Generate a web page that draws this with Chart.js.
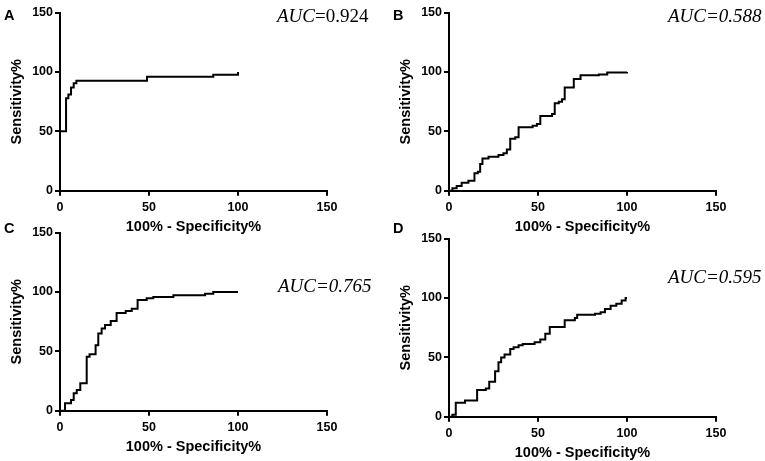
<!DOCTYPE html>
<html>
<head>
<meta charset="utf-8">
<script src="https://cdn.jsdelivr.net/npm/chart.js@4.4.1/dist/chart.umd.min.js"></script>
<style>
  html, body { margin: 0; padding: 0; background: #fff; overflow: hidden; }
  body { width: 765px; height: 461px; position: relative; }
  .panel { position: absolute; width: 376px; height: 235px; }
  .letter { position: absolute; font: bold 14.5px "Liberation Sans", Arial, sans-serif; line-height: 14px; color: #000; }
  .auc { position: absolute; font: 19px "Liberation Serif", "Times New Roman", serif; line-height: 19px; color: #000; white-space: nowrap; }
  .auc i { font-style: italic; }
</style>
</head>
<body>
<div class="panel" style="left:0px;top:0px"><canvas id="chartA"></canvas></div>
<div class="panel" style="left:389px;top:0px"><canvas id="chartB"></canvas></div>
<div class="panel" style="left:0px;top:220px"><canvas id="chartC"></canvas></div>
<div class="panel" style="left:389px;top:226px"><canvas id="chartD"></canvas></div>

<div class="letter" style="left:4px;top:8px">A</div>
<div class="letter" style="left:393px;top:8px">B</div>
<div class="letter" style="left:4px;top:221px">C</div>
<div class="letter" style="left:393px;top:221px">D</div>

<div class="auc" style="left:277px;top:6px"><i>AUC</i>=0.924</div>
<div class="auc" style="left:668px;top:6px"><i>AUC=0.588</i></div>
<div class="auc" style="left:278px;top:276px"><i>AUC=0.765</i></div>
<div class="auc" style="left:668px;top:267px"><i>AUC=0.595</i></div>

<script>
// axis ticks shared by all four panels
const axisTicks = [0, 50, 100, 150];
const xTitle = "100% - Specificity%";
const yTitle = "Sensitivity%";

// ROC curves: x = 100% - specificity, y = sensitivity (points where the curve steps up)
const aX = [0, 0, 3.4, 4.7, 6.2, 7.7, 9.2, 48.9, 86.1, 100];
const aY = [0, 50, 78, 81, 87, 90.5, 92.7, 96, 97.8, 100];

const bX = [0, 1.9, 4.3, 7.1, 10.9, 14.3, 16.2, 17.5, 18.8, 22.2, 27.8, 30.6, 32.5, 34.4, 37.2, 39.1, 47, 49.4, 51.3, 57.9, 59.4, 61.7, 63.5, 65, 70.1, 73.9, 84.2, 88.9, 100];
const bY = [0, 2, 3.9, 6.7, 8.4, 14.6, 16, 22.5, 27.2, 28.7, 30, 31.5, 34.8, 43.8, 45, 53.4, 54.8, 56.2, 62.9, 64.6, 73.6, 75, 77, 87, 94.1, 97.2, 98, 99.7, 100];

const cX = [0, 2.8, 6.2, 7.7, 9.4, 11.4, 15, 16.6, 20, 21.5, 23.4, 25.3, 28.5, 31.8, 36.9, 40.3, 43.6, 48.7, 52.4, 63.7, 81.5, 86.1, 100];
const cY = [0, 6.2, 9, 14.6, 17.4, 23.2, 45.4, 47.6, 55.2, 65, 69.2, 72.3, 75.6, 82.4, 84, 86, 93.3, 94.7, 95.8, 97.2, 98.6, 100, 100];

const dX = [0, 1.9, 3.8, 9, 15.8, 20.7, 22.6, 25.9, 27.8, 29.3, 31.2, 34.4, 36.3, 39.1, 41.4, 48.1, 51.3, 54.1, 56.6, 65, 70.7, 72, 82, 85.2, 87.6, 90.8, 94, 97, 99.2, 100];
const dY = [0, 1.7, 11.8, 13.7, 22.4, 23.8, 29.4, 38.4, 45.9, 49.9, 52.4, 57.1, 58.5, 60.2, 61.3, 62.7, 65, 70, 75.6, 81.2, 83.2, 86, 86.8, 88, 90.8, 93.6, 95.2, 98, 100, 100];

const tickFont = { family: "'Liberation Sans', Arial, sans-serif", size: 12.5, weight: "bold" };
const titleFont = { family: "'Liberation Sans', Arial, sans-serif", size: 14.5, weight: "bold", lineHeight: 1 };

function axisOptions(title, tickPad, titlePadding, fitFn) {
    return {
        type: "linear",
        min: 0,
        max: 150,
        afterBuildTicks: scale => { scale.ticks = axisTicks.map(v => ({ value: v })); },
        afterFit: fitFn,
        ticks: { color: "#000", font: tickFont, padding: tickPad, maxRotation: 0, autoSkip: false },
        grid: { display: true, drawOnChartArea: false, drawTicks: true, tickLength: 5, color: "#000", lineWidth: 2 },
        border: { display: true, color: "#000", width: 2 },
        title: { display: true, text: title, color: "#000", font: titleFont, padding: titlePadding }
    };
}

function makePanel(id, xs, ys) {
    const ctx = document.getElementById(id).getContext("2d");
    const points = xs.map((x, i) => ({ x: x, y: ys[i] }));
    return new Chart(ctx, {
        type: "line",
        data: {
            datasets: [{
                data: points,
                stepped: "before",
                borderColor: "#000",
                borderWidth: 2,
                borderJoinStyle: "miter",
                pointRadius: 0,
                fill: false
            }]
        },
        options: {
            responsive: true,
            maintainAspectRatio: false,
            animation: false,
            layout: { padding: { top: 12.7, left: 0, right: 376 - 60 - 267, bottom: 0 } },
            plugins: { legend: { display: false }, tooltip: { enabled: false } },
            scales: {
                x: axisOptions(xTitle, 4, { top: 0, bottom: 0.5 }, s => { s.height = 235 - 12.7 - 178; }),
                y: axisOptions(yTitle, 2, { top: 10, bottom: 0 }, s => { s.width = 60; })
            }
        }
    });
}

makePanel("chartA", aX, aY);
makePanel("chartB", bX, bY);
makePanel("chartC", cX, cY);
makePanel("chartD", dX, dY);
</script>
</body>
</html>
